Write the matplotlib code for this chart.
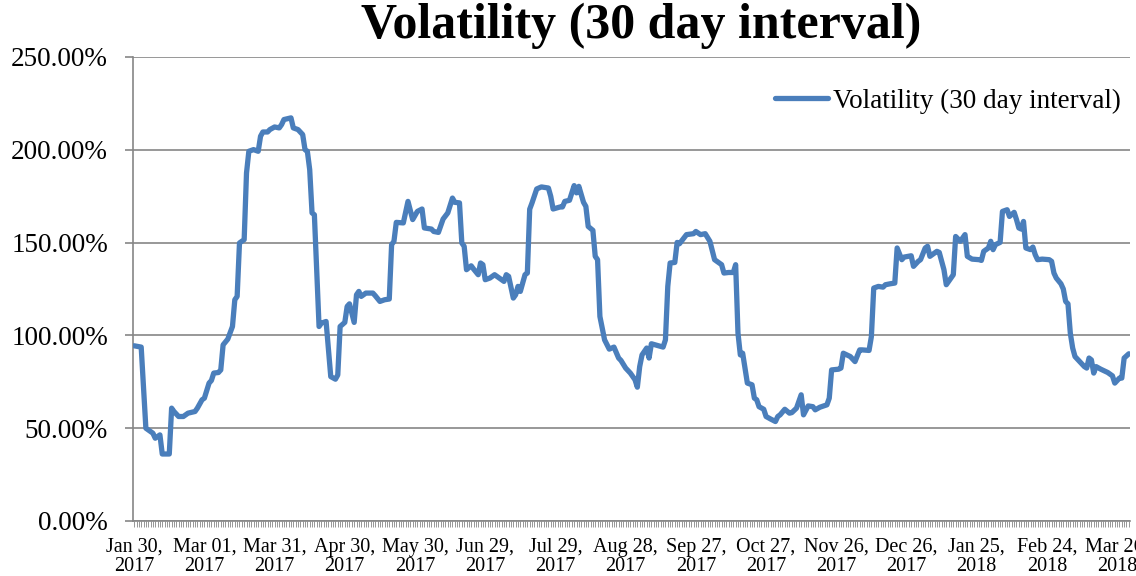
import datetime as dt
import numpy as np
import matplotlib
matplotlib.use("Agg")
import matplotlib.pyplot as plt
from matplotlib.ticker import FixedLocator, FuncFormatter, MultipleLocator

# ── data: day offset from Jan 30 2017, volatility in % ──
START = dt.date(2017, 1, 30)
N_DAYS = 426
day = [0, 3, 5, 8, 9, 11, 12, 15, 16, 17, 19, 21, 23, 26, 27, 29, 30, 32, 33, 34,
       36, 37, 38, 40, 42, 43, 44, 45, 47, 48, 49, 51, 53, 54, 55, 57, 58, 60, 62, 63,
       64, 67, 68, 70, 72, 73, 74, 75, 76, 77, 79, 80, 82, 84, 86, 87, 88, 90, 91, 92,
       94, 95, 96, 97, 99, 102, 103, 105, 107, 109, 110, 111, 112, 115, 117, 119, 121, 123, 124, 127,
       128, 130, 132, 134, 136, 137, 139, 140, 141, 142, 144, 145, 147, 148, 149, 150, 152, 154, 156, 158,
       159, 160, 162, 163, 164, 165, 167, 168, 169, 170, 172, 174, 177, 178, 179, 182, 183, 184, 186, 188,
       189, 190, 192, 193, 194, 196, 197, 198, 199, 201, 203, 205, 207, 208, 210, 212, 214, 215, 216, 217,
       219, 220, 221, 224, 226, 227, 228, 229, 231, 232, 233, 236, 239, 240, 242, 244, 246, 248, 250, 251,
       252, 254, 256, 257, 258, 259, 260, 262, 264, 265, 266, 267, 269, 270, 272, 274, 275, 276, 278, 280,
       281, 283, 285, 286, 288, 290, 291, 293, 296, 297, 298, 301, 302, 303, 306, 308, 310, 311, 314, 315,
       316, 318, 320, 321, 323, 325, 326, 328, 329, 332, 333, 335, 336, 338, 339, 340, 342, 343, 344, 346,
       347, 348, 350, 351, 353, 355, 356, 358, 361, 362, 363, 365, 366, 367, 368, 370, 371, 373, 374, 376,
       377, 378, 379, 380, 381, 383, 384, 385, 386, 388, 391, 392, 393, 394, 396, 397, 398, 399, 400, 401,
       402, 404, 406, 407, 408, 409, 410, 411, 413, 416, 418, 419, 421, 422, 423, 425]
vol = [94.4, 93.7, 50.0, 47.3, 44.6, 46.4, 36.1, 36.1, 60.8, 59.0, 56.3, 56.3, 58.1, 59.0, 60.8, 65.3, 66.2, 74.3, 75.7, 79.7,
       80.0, 81.4, 94.9, 98.0, 104.8, 119.2, 121.0, 149.8, 151.6, 187.5, 199.2, 200.1, 199.2, 207.3, 209.6, 209.6, 210.9, 212.3, 211.8, 213.6,
       216.3, 217.2, 211.8, 210.9, 208.2, 200.1, 199.2, 189.3, 166.0, 165.0, 104.8, 106.6, 107.5, 77.8, 76.4, 78.7, 104.8, 107.0, 115.6, 117.0,
       107.0, 121.9, 123.7, 121.0, 122.8, 122.8, 121.4, 118.3, 119.2, 119.6, 148.9, 150.7, 160.9, 160.6, 172.2, 162.4, 166.8, 168.1, 157.9, 157.3,
       156.0, 155.5, 162.7, 166.0, 174.0, 171.7, 171.4, 149.8, 148.0, 135.4, 137.5, 135.8, 132.7, 139.0, 138.1, 130.0, 130.9, 132.7, 130.9, 129.1,
       132.7, 131.8, 120.1, 121.9, 126.4, 123.7, 132.7, 133.6, 168.0, 171.4, 178.9, 180.0, 179.4, 174.9, 168.1, 169.2, 169.2, 172.2, 172.8, 180.7,
       176.8, 180.3, 171.7, 169.5, 158.7, 156.6, 142.6, 140.8, 110.2, 97.6, 92.6, 93.7, 87.8, 86.5, 82.4, 79.7, 76.1, 72.1, 83.2, 89.5,
       93.2, 87.8, 95.5, 94.4, 93.7, 97.6, 126.4, 139.0, 139.3, 150.1, 149.4, 154.3, 154.8, 156.0, 154.3, 154.8, 150.7, 140.8, 139.0, 138.1,
       133.6, 133.9, 133.9, 138.1, 101.2, 89.5, 90.4, 74.3, 73.4, 66.2, 65.3, 61.6, 60.2, 56.3, 54.9, 53.6, 56.3, 57.2, 60.2, 58.1,
       58.4, 60.8, 68.0, 57.2, 62.0, 61.6, 59.9, 61.3, 62.6, 66.2, 81.4, 81.8, 82.4, 90.4, 88.6, 85.9, 92.2, 92.2, 91.9, 99.4,
       125.5, 126.4, 126.0, 127.3, 127.8, 128.2, 147.1, 140.8, 142.2, 142.9, 137.2, 139.9, 140.8, 147.1, 148.0, 142.6, 144.4, 145.3, 144.7, 135.4,
       127.3, 129.1, 132.7, 153.3, 150.7, 154.3, 142.6, 141.1, 140.8, 140.4, 145.3, 147.1, 150.7, 146.2, 148.9, 150.1, 166.8, 167.7, 164.1, 166.3,
       162.4, 157.9, 157.3, 161.4, 147.1, 146.2, 147.6, 143.5, 140.8, 141.1, 140.8, 139.9, 133.6, 130.9, 127.8, 125.0, 118.3, 117.0, 101.2, 93.2,
       88.6, 85.9, 83.2, 82.4, 87.8, 86.8, 79.7, 83.2, 81.8, 80.0, 78.2, 74.3, 77.0, 77.0, 87.8, 90.1]
yticks = [0, 50, 100, 150, 200, 250]
label_every = 30
series_name = "Volatility (30 day interval)"

LINE = "#4A7EBB"
GRID = "#868686"
FONT = "Liberation Serif"

plt.rcParams["font.family"] = [FONT, "DejaVu Serif"]

fig = plt.figure(figsize=(11.36, 5.76), dpi=100)
ax = fig.add_axes([133/1136, 1-521/576, (1130-133)/1136, (521-57)/576])

ax.plot(day, vol, color=LINE, lw=3.8, solid_joinstyle="round",
        solid_capstyle="round", label=series_name, zorder=3)

ax.set_xlim(-0.5, N_DAYS - 0.5)
ax.set_ylim(0, 250)
ax.set_yticks(yticks)
ax.yaxis.set_major_formatter(FuncFormatter(lambda v, p: f"{v:.2f}%"))
ax.grid(axis="y", color=GRID, lw=1.2, zorder=1)

xt = list(range(0, N_DAYS, label_every))
ax.xaxis.set_major_locator(FixedLocator(xt))
ax.xaxis.set_major_formatter(FuncFormatter(
    lambda v, p: (START + dt.timedelta(days=int(round(v)))).strftime("%b %d,\n%Y")))
ax.xaxis.set_minor_locator(MultipleLocator(1))

for s in ["top", "right"]:
    ax.spines[s].set_visible(False)
for s in ["left", "bottom"]:
    ax.spines[s].set_color(GRID)
    ax.spines[s].set_linewidth(1.2)

ax.tick_params(axis="y", length=6, width=1.2, color=GRID, pad=12, labelsize=19.5)
ax.tick_params(axis="x", which="both", length=4, width=0.6, color=GRID,
               pad=8, labelsize=14.5)
for t in ax.get_xticklabels():
    t.set_linespacing(1.0)

fig.text(641/1136, 1-38/576, series_name, ha="center", va="baseline",
         fontsize=36, fontweight="bold")

leg = ax.legend(loc="center left", bbox_to_anchor=(775/1136, 1-101/576),
                bbox_transform=fig.transFigure, frameon=False, fontsize=19.5,
                handlelength=1.95, handletextpad=0.2, borderpad=0, borderaxespad=0)

fig.savefig("out.png", dpi=100, facecolor="white")
